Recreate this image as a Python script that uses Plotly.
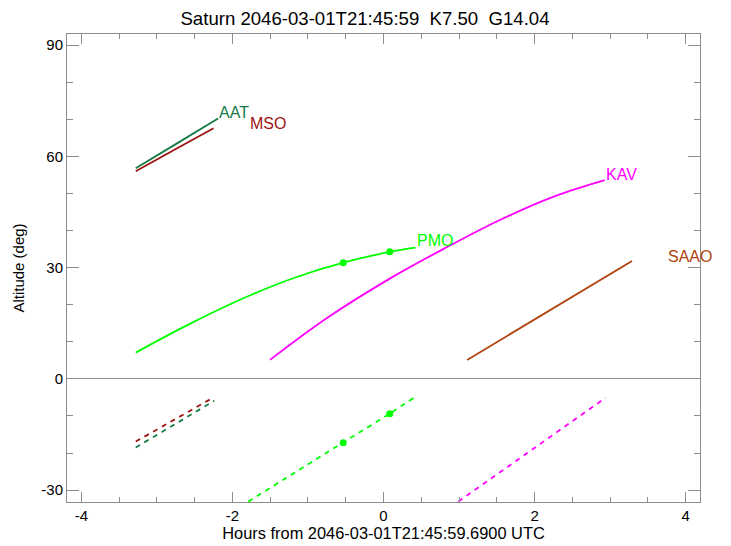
import plotly.graph_objects as go

# ---- data (hours from reference time, altitude in degrees) ----
aat_hours = [-3.28, -2.75, -2.19]
aat_alt = [56.8, 63.3, 70.2]
mso_hours = [-3.28, -2.75, -2.25]
mso_alt = [56.0, 62.0, 67.6]
aat_low_hours = [-3.28, -2.24]
aat_low_alt = [-18.5, -5.9]
mso_low_hours = [-3.28, -2.25]
mso_low_alt = [-16.9, -5.0]

pmo_hours = [-3.28, -2.597, -1.803, -1.187, -0.533, 0.083, 0.423]
pmo_alt = [7.09, 14.5, 22.2, 27.2, 31.34, 34.25, 35.38]
pmo_mark_hours = [-0.533, 0.083]
pmo_mark_alt = [31.34, 34.25]
pmo_low_hours = [-1.79, -0.54, 0.08, 0.40]
pmo_low_alt = [-33.1, -17.2, -9.4, -5.1]
pmo_low_mark_alt = [-17.2, -9.4]

kav_hours = [-1.503, -0.753, 0.128, 0.835, 1.540, 2.245, 2.929]
kav_alt = [5.12, 16.35, 27.57, 35.48, 42.85, 49.1, 53.6]
kav_low_hours = [0.99, 2.94]
kav_low_alt = [-33.1, -5.1]

saao_hours = [1.107, 3.29]
saao_alt = [5.1, 31.8]

x_ticks = [-4, -2, 0, 2, 4]
x_tick_labels = ["-4", "-2", "0", "2", "4"]
y_ticks = [-30, 0, 30, 60, 90]
y_tick_labels = ["-30", "0", "30", "60", "90"]

labels = ["AAT", "MSO", "PMO", "KAV", "SAAO"]
label_x = [-2.18, -1.77, 0.437, 2.95, 3.77]
label_y = [71.9, 69.0, 37.2, 55.2, 33.1]

C_AAT = "#147a46"
C_MSO = "#9e1212"
C_PMO = "#00ff00"
C_KAV = "#ff00ff"
C_SAAO = "#b0420e"
label_colors = [C_AAT, C_MSO, C_PMO, C_KAV, C_SAAO]

DASH = "5px,5px"
LW = 1.8

fig = go.Figure()
def line(x, y, c, dash="solid"):
    fig.add_trace(go.Scatter(x=x, y=y, mode="lines",
                             line=dict(color=c, width=LW, dash=dash, shape="spline", smoothing=1.0),
                             showlegend=False, hoverinfo="skip"))

line(aat_hours, aat_alt, C_AAT)
line(mso_hours, mso_alt, C_MSO)
line(aat_low_hours, aat_low_alt, C_AAT, DASH)
line(mso_low_hours, mso_low_alt, C_MSO, DASH)
line(pmo_hours, pmo_alt, C_PMO)
line(pmo_low_hours, pmo_low_alt, C_PMO, DASH)
line(kav_hours, kav_alt, C_KAV)
line(kav_low_hours, kav_low_alt, C_KAV, DASH)
line(saao_hours, saao_alt, C_SAAO)

fig.add_trace(go.Scatter(x=pmo_mark_hours + pmo_mark_hours, y=pmo_mark_alt + pmo_low_mark_alt,
                         mode="markers", marker=dict(color=C_PMO, size=7),
                         showlegend=False, hoverinfo="skip"))

for t, x, y, c in zip(labels, label_x, label_y, label_colors):
    fig.add_annotation(x=x, y=y, text=t, showarrow=False, xanchor="left", yanchor="middle",
                       font=dict(color=c, size=16, family="Liberation Sans"), xshift=-2)

AX = "#8c8c8c"
common = dict(showline=True, linecolor=AX, linewidth=1, mirror="ticks", ticks="inside",
              tickcolor=AX, showgrid=False, automargin=False, tickfont=dict(size=15, color="black"))
fig.update_xaxes(range=[-4.19, 4.19], tickmode="array", tickvals=x_ticks, ticktext=x_tick_labels,
                 ticklen=10, zeroline=False,
                 minor=dict(dtick=0.5, tick0=0, ticks="inside", ticklen=5, tickcolor=AX, showgrid=False),
                 title=dict(text="Hours from 2046-03-01T21:45:59.6900 UTC", font=dict(size=16.4, color="black"), standoff=0),
                 **common)
fig.update_yaxes(range=[-33.2, 93.0], tickmode="array", tickvals=y_ticks, ticktext=y_tick_labels,
                 ticklen=12, zeroline=True, zerolinecolor=AX, zerolinewidth=1,
                 minor=dict(dtick=10, tick0=0, ticks="inside", ticklen=6, tickcolor=AX, showgrid=False),
                 title=dict(text="Altitude (deg)", font=dict(size=15, color="black"), standoff=13),
                 **common)
# the page body adds an 8px offset; the figure is sized to fill the rest of the window
W, H = 723, 538
fig.update_layout(
    width=W, height=H,
    margin=dict(l=59, r=31, t=26, b=44),
    paper_bgcolor="white", plot_bgcolor="white",
    font=dict(family="Liberation Sans", color="black"),
    title=dict(text="Saturn 2046-03-01T21:45:59\u00a0 K7.50\u00a0 G14.04", x=357 / W, xanchor="center",
               xref="container", yref="container", y=1 - 10 / H, yanchor="middle",
               font=dict(size=18.6, color="black"), automargin=False),
)
fig.write_html("out.html")
